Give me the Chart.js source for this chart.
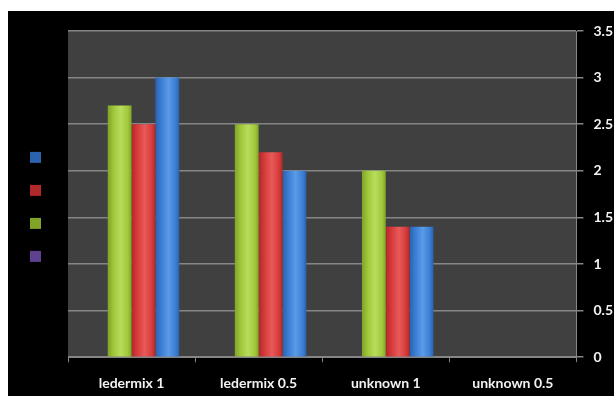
<!DOCTYPE html>
<html>
<head>
    <title>ledermix</title>
    <script src="https://cdn.jsdelivr.net/npm/chart.js"></script>
    <style>
        body { margin: 0; background: #fff; }
        .chart-box { position: absolute; left: 8px; top: 11px; width: 606px; height: 385px; background: #000; }
    </style>
</head>
<body>
    <div class="chart-box">
        <canvas id="bar-chart"></canvas>
    </div>

    <script>
        // 데이터
        const categories = ['ledermix 1', 'ledermix 0.5', 'unknown 1', 'unknown 0.5'];
        const purpleValues = [null, null, null, null];
        const greenValues = [2.7, 2.5, 2.0, null];
        const redValues = [2.5, 2.2, 1.4, null];
        const blueValues = [3.0, 2.0, 1.4, null];
        const seriesLabels = ['', '', '', ''];
        const yTicks = [0, 0.5, 1, 1.5, 2, 2.5, 3, 3.5];

        const GRID = '#858585';

        // 원통 느낌 그라데이션 (x 스케일 기준으로 막대 위치 계산)
        function cylinder(base, dark, light) {
            return function(ctx) {
                if (ctx.type !== 'data') return base;
                const chart = ctx.chart;
                const xs = chart.scales.x;
                if (!xs || xs.width == null) return base;
                const n = chart.data.datasets.length;
                const cat = xs.width / categories.length;
                const group = cat * 0.75;
                const bw = group / n;
                const center = xs.getPixelForValue(ctx.dataIndex);
                const left = center - group / 2 + ctx.datasetIndex * bw;
                const g = chart.ctx.createLinearGradient(left, 0, left + bw, 0);
                g.addColorStop(0, dark);
                g.addColorStop(0.25, base);
                g.addColorStop(0.55, light);
                g.addColorStop(0.85, base);
                g.addColorStop(1, dark);
                return g;
            };
        }

        // 플롯 영역 배경 + 범례 폭 고정
        const plotBg = {
            id: 'plotBg',
            beforeInit(chart) {
                const legend = chart.legend;
                const fit = legend.fit;
                legend.fit = function() {
                    fit.call(this);
                    this.width = 59;
                };
            },
            beforeDraw(chart) {
                const a = chart.chartArea;
                const c = chart.ctx;
                c.save();
                c.fillStyle = '#404040';
                c.fillRect(a.left, a.top, a.right - a.left, a.bottom - a.top);
                c.restore();
            }
        };

        const ctx = document.getElementById('bar-chart').getContext('2d');
        new Chart(ctx, {
            type: 'bar',
            data: {
                labels: categories,
                datasets: [
                    { label: seriesLabels[0], data: purpleValues, backgroundColor: cylinder('#7b5aae', '#5e4290', '#9479c4') },
                    { label: seriesLabels[1], data: greenValues, backgroundColor: cylinder('#a0c83a', '#80a328', '#b8dc5c') },
                    { label: seriesLabels[2], data: redValues, backgroundColor: cylinder('#d73b3b', '#b02828', '#e85a5a') },
                    { label: seriesLabels[3], data: blueValues, backgroundColor: cylinder('#3a7fd5', '#2a62ad', '#5b9be6') }
                ]
            },
            options: {
                responsive: true,
                maintainAspectRatio: false,
                animation: false,
                categoryPercentage: 0.75,
                barPercentage: 1.0,
                layout: { padding: { left: 1, top: 20, right: -9, bottom: -9 } },
                plugins: {
                    tooltip: { enabled: false },
                    legend: {
                        position: 'left',
                        align: 'start',
                        reverse: true,
                        title: { display: true, text: '', padding: { top: 85, bottom: 0 }, font: { size: 12 } },
                        labels: {
                            boxWidth: 11,
                            boxHeight: 11,
                            padding: 21,
                            color: '#000',
                            font: { family: 'Lato', size: 12 }
                        }
                    }
                },
                scales: {
                    x: {
                        grid: { drawOnChartArea: false, drawTicks: true, tickLength: 5, color: GRID, offset: true },
                        border: { color: GRID },
                        ticks: { color: '#f2f2f2', padding: 13, font: { family: 'Lato', size: 14, weight: 'bold' } }
                    },
                    y: {
                        position: 'right',
                        min: 0,
                        max: 3.5,
                        afterBuildTicks(axis) { axis.ticks = yTicks.map(v => ({ value: v })); },
                        grid: { color: GRID, lineWidth: 1.5, tickLength: 7 },
                        border: { color: GRID },
                        ticks: {
                            color: '#f2f2f2',
                            padding: 10,
                            font: { family: 'Lato', size: 14, weight: 'bold' },
                            callback: v => String(v)
                        }
                    }
                }
            },
            plugins: [plotBg]
        });
    </script>
</body>
</html>
